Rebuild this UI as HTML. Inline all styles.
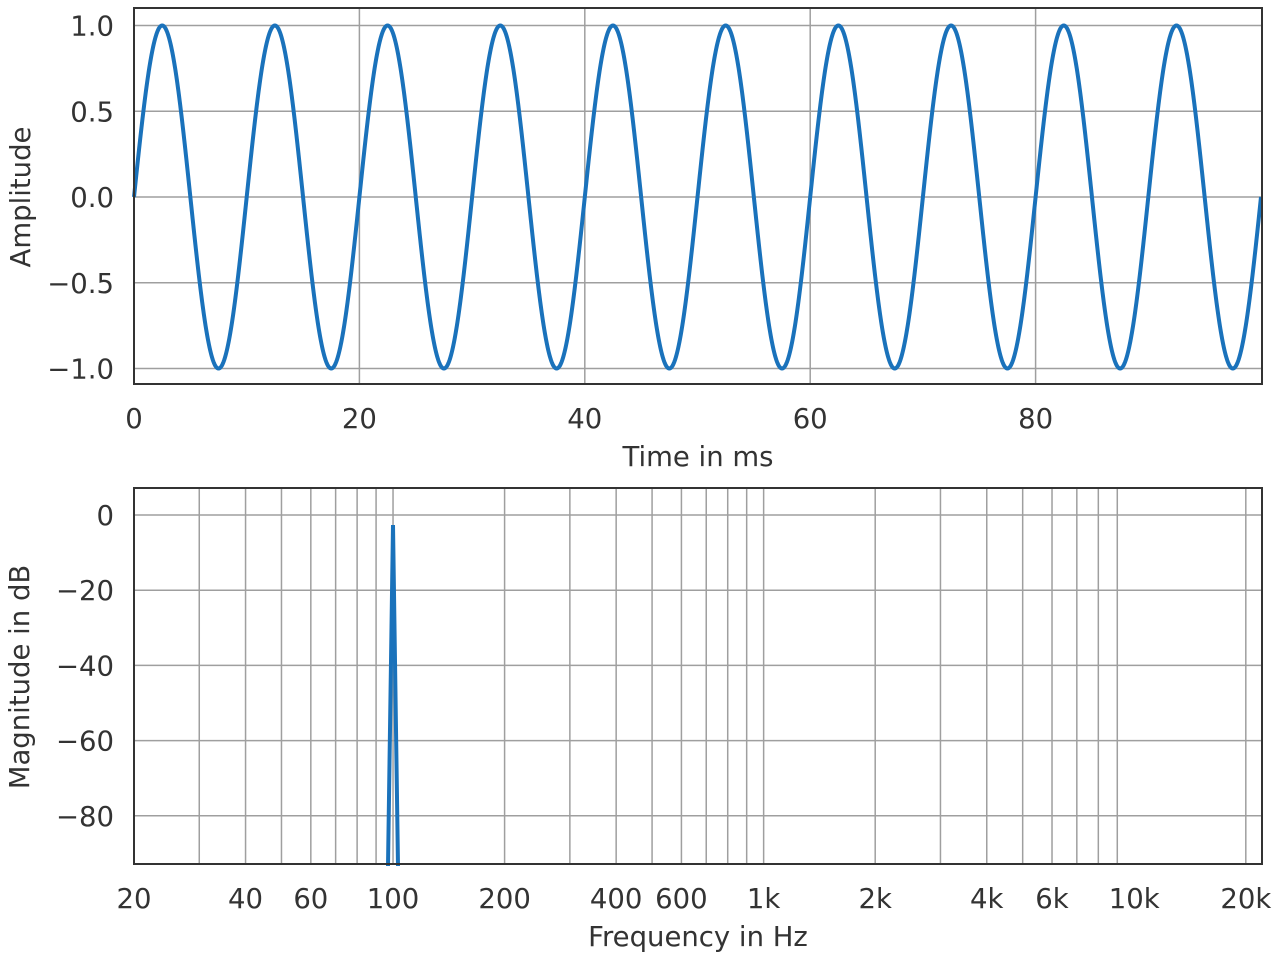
<!DOCTYPE html>
<html><head><meta charset="utf-8"><style>
body{margin:0;background:#fff}
text{font-family:"DejaVu Sans","Liberation Sans",sans-serif;fill:#333;font-size:27.5px}
</style></head><body>
<svg id="s" width="1280" height="960" xmlns="http://www.w3.org/2000/svg"></svg>
<script>
const s=document.getElementById('s');let h='';
const G='stroke="#9f9f9f" stroke-width="1.5"';
const tx=t=>134+t*11.27, ty=v=>197-v*171.5;
for(const t of [20,40,60,80]) h+=`<line x1="${tx(t)}" y1="8" x2="${tx(t)}" y2="384" ${G}/>`;
for(const v of [1,.5,0,-.5,-1]) h+=`<line x1="134" y1="${ty(v)}" x2="1262" y2="${ty(v)}" ${G}/>`;
let p='';for(let i=0;i<=2000;i++){const t=i*0.05;if(tx(t)>1262)break;p+=(i?'L':'M')+tx(t).toFixed(2)+','+ty(Math.sin(2*Math.PI*t/10)).toFixed(2);}
h+=`<path d="${p}" fill="none" stroke="#1a72bb" stroke-width="4"/>`;
h+=`<rect x="134" y="8" width="1128" height="376" fill="none" stroke="#333" stroke-width="2"/>`;
for(const t of [0,20,40,60,80]) h+=`<text x="${tx(t)}" y="428" text-anchor="middle">${t}</text>`;
[['1.0',1],['0.5',.5],['0.0',0],['\u22120.5',-.5],['\u22121.0',-1]].forEach(([l,v])=>h+=`<text x="114" y="${ty(v)+10}" text-anchor="end">${l}</text>`);
h+=`<text x="698" y="466" text-anchor="middle">Time in ms</text>`;
h+=`<text transform="translate(30,197) rotate(-90)" text-anchor="middle">Amplitude</text>`;
const fx=f=>134+Math.log10(f/20)*370.6, dy=d=>515-d*3.76;
const fs=[];for(const d of [10,100,1000])for(let k=1;k<10;k++){const f=k*d;if(f>20&&f<=20000)fs.push(f);}fs.push(20000);
for(const f of fs) h+=`<line x1="${fx(f)}" y1="488" x2="${fx(f)}" y2="864" ${G}/>`;
for(const d of [0,-20,-40,-60,-80]) h+=`<line x1="134" y1="${dy(d)}" x2="1262" y2="${dy(d)}" ${G}/>`;
h+=`<path d="M388,866 L393,525 L398,866" fill="none" stroke="#1a72bb" stroke-width="4"/>`;
h+=`<rect x="134" y="488" width="1128" height="376" fill="none" stroke="#333" stroke-width="2"/>`;
[[20,'20'],[40,'40'],[60,'60'],[100,'100'],[200,'200'],[400,'400'],[600,'600'],[1000,'1k'],[2000,'2k'],[4000,'4k'],[6000,'6k'],[10000,'10k'],[20000,'20k']].forEach(([f,l])=>h+=`<text x="${fx(f)}" y="908" text-anchor="middle">${l}</text>`);
[0,-20,-40,-60,-80].forEach(d=>h+=`<text x="114" y="${dy(d)+10}" text-anchor="end">${d<0?'\u2212'+(-d):d}</text>`);
h+=`<text x="698" y="946" text-anchor="middle">Frequency in Hz</text>`;
h+=`<text transform="translate(29,677) rotate(-90)" text-anchor="middle">Magnitude in dB</text>`;
s.innerHTML=h;
</script>
</body></html>
